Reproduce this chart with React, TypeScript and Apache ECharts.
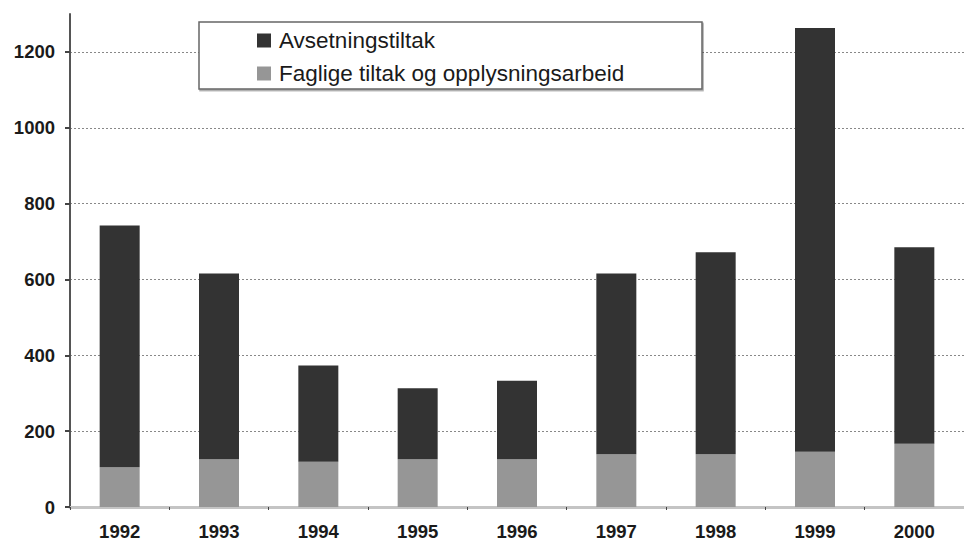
import React, { useEffect, useRef } from "react";
import * as echarts from "echarts";

const years = ["1992", "1993", "1994", "1995", "1996", "1997", "1998", "1999", "2000"];
const avsetningstiltak = [637, 490, 254, 187, 207, 477, 533, 1117, 518];
const fagligeTiltak = [105, 126, 119, 126, 126, 139, 139, 146, 167];
const yTicks = [0, 200, 400, 600, 800, 1000, 1200];
const seriesNames = ["Avsetningstiltak", "Faglige tiltak og opplysningsarbeid"];

export default function App() {
  const ref = useRef<HTMLDivElement>(null);
  useEffect(() => {
    if (!ref.current) return;
    const chart = echarts.init(ref.current, null, { renderer: "svg" });
    const font = "'Liberation Sans', Arial, sans-serif";
    chart.setOption({
      animation: false,
      backgroundColor: "#ffffff",
      textStyle: { fontFamily: font },
      grid: { left: 70, top: 14, right: -10, bottom: 35, containLabel: false },
      legend: {
        orient: "vertical",
        left: 257,
        top: 29,
        padding: 0,
        itemWidth: 14,
        itemHeight: 14,
        itemGap: 10,
        icon: "rect",
        selectedMode: false,
        z: 20,
        data: [seriesNames[0], seriesNames[1]],
        textStyle: { fontSize: 22.5, color: "#1a1a1a", fontFamily: font, lineHeight: 22, padding: [0, 0, 0, 3] },
      },
      graphic: [
        {
          type: "rect",
          z: 3,
          shape: { x: 199, y: 22, width: 503, height: 67 },
          style: { fill: "#ffffff", stroke: "#666", lineWidth: 1.5, shadowColor: "rgba(0,0,0,0.35)", shadowOffsetX: 1, shadowOffsetY: 1.5, shadowBlur: 1 },
        },
      ],
      xAxis: {
        type: "category",
        data: years,
        axisLine: { lineStyle: { color: "#c4c4c4", width: 3 } },
        axisTick: { show: true, length: 3, lineStyle: { color: "#444", width: 1 } },
        axisLabel: { fontSize: 18.5, fontWeight: "bold", color: "#1a1a1a", margin: 15, fontFamily: font },
        splitLine: { show: false },
      },
      yAxis: {
        type: "value",
        min: 0,
        max: 1300,
        interval: 200,
        axisLine: { show: true, lineStyle: { color: "#555", width: 2 } },
        axisTick: { show: true, length: 5, inside: false, customValues: yTicks, lineStyle: { color: "#444", width: 2 } },
        axisLabel: {
          fontSize: 18.5,
          fontWeight: "bold",
          color: "#1a1a1a",
          margin: 15,
          customValues: yTicks,
          fontFamily: font,
          formatter: (v: number) => String(v),
        },
        splitLine: { show: true, showMinLine: false, lineStyle: { color: "#888", type: [2, 2], width: 1 } },
      },
      series: [
        {
          name: seriesNames[1],
          type: "bar",
          stack: "total",
          data: fagligeTiltak,
          barWidth: 40,
          itemStyle: { color: "#969696" },
          z: 2,
        },
        {
          name: seriesNames[0],
          type: "bar",
          stack: "total",
          data: avsetningstiltak,
          barWidth: 40,
          itemStyle: { color: "#333333" },
          z: 2,
        },
      ],
    });
    return () => chart.dispose();
  }, []);
  return <div ref={ref} style={{ width: 964, height: 542, position: "fixed", left: 0, top: 0 }} />;
}
